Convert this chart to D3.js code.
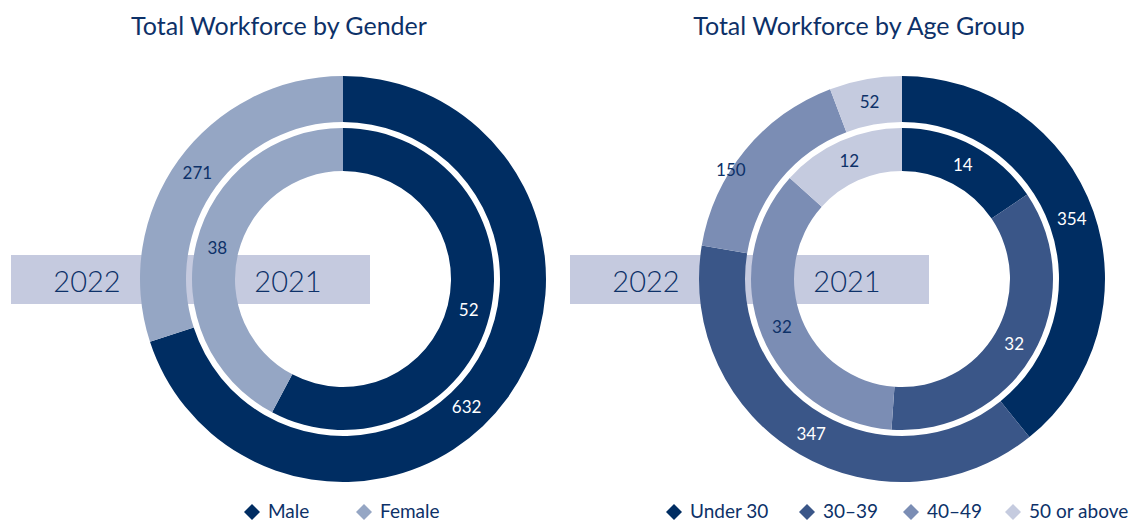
<!DOCTYPE html>
<html>
<head>
<meta charset="utf-8">
<script src="https://cdn.jsdelivr.net/npm/d3@7"></script>
<style>
  body { margin: 0; background: #fff; }
  text { font-family: Lato, "Open Sans", sans-serif; }
</style>
</head>
<body>
<div id="chart-container"></div>
<script>
const titles = ["Total Workforce by Gender", "Total Workforce by Age Group"];
const years = ["2022", "2021"];

const genderCats = ["Male", "Female"];
const gender2022 = [632, 271];
const gender2021 = [52, 38];

const ageCats = ["Under 30", "30–39", "40–49", "50 or above"];
const age2022 = [354, 347, 150, 52];
const age2021 = [14, 32, 32, 12];

const main = function() {
  const navy = "#0d3168";
  const svg = d3.select("#chart-container")
    .append("svg")
    .attr("width", 1133)
    .attr("height", 521);

  const panels = [
    {
      title: titles[0], cats: genderCats, outer: gender2022, inner: gender2021,
      cx: 343, titleX: 279,
      colors: ["#002d62", "#95a6c4"],
      lightText: ["#ffffff", navy],
      legendX: [252, 364],
      nudge: { 0: [-22, 22] }
    },
    {
      title: titles[1], cats: ageCats, outer: age2022, inner: age2021,
      cx: 902, titleX: 859,
      colors: ["#002d62", "#3a5688", "#7b8db4", "#c5cbdf"],
      lightText: ["#ffffff", "#ffffff", navy, navy],
      legendX: [674, 807, 911, 1013],
      nudge: { 2: [-32, 5] }
    }
  ];

  const cy = 279;
  const outerArc = d3.arc().innerRadius(157).outerRadius(203);
  const innerArc = d3.arc().innerRadius(108).outerRadius(151);
  const pie = d3.pie().sort(null).value(d => d);

  panels.forEach(p => {
    const color = d3.scaleOrdinal().domain(p.cats).range(p.colors);
    const g = svg.append("g");

    // title
    g.append("text")
      .attr("x", p.titleX)
      .attr("y", 35)
      .attr("text-anchor", "middle")
      .style("font-size", "25px")
      .style("fill", navy)
      .text(p.title);

    // year band behind the donut
    g.append("rect")
      .attr("x", p.cx - 332)
      .attr("y", 255)
      .attr("width", 359)
      .attr("height", 49)
      .style("fill", "#c5cadf");

    g.append("text")
      .attr("x", p.cx - 256)
      .attr("y", 292)
      .attr("text-anchor", "middle")
      .style("font-size", "29px")
      .style("font-weight", 300)
      .style("fill", navy)
      .text(years[0]);

    const donut = g.append("g").attr("transform", "translate(" + p.cx + "," + cy + ")");

    [[p.outer, outerArc, true], [p.inner, innerArc, false]].forEach(([vals, arc, isOuter]) => {
      const arcs = pie(vals);
      donut.selectAll(null)
        .data(arcs)
        .enter()
        .append("path")
        .attr("d", arc)
        .style("fill", (d, i) => color(p.cats[i]));

      donut.selectAll(null)
        .data(arcs)
        .enter()
        .append("text")
        .attr("transform", (d, i) => {
          const c = arc.centroid(d);
          const n = isOuter && p.nudge[i] ? p.nudge[i] : [0, 0];
          return "translate(" + (c[0] + n[0]) + "," + (c[1] + n[1]) + ")";
        })
        .attr("text-anchor", "middle")
        .attr("dy", "0.35em")
        .style("font-size", "17px")
        .style("fill", (d, i) => p.lightText[i])
        .text(d => d.data);
    });

    g.append("text")
      .attr("x", p.cx - 55)
      .attr("y", 292)
      .attr("text-anchor", "middle")
      .style("font-size", "29px")
      .style("font-weight", 300)
      .style("fill", navy)
      .text(years[1]);

    // legend
    const leg = g.selectAll(null)
      .data(p.cats)
      .enter()
      .append("g")
      .attr("transform", (d, i) => "translate(" + p.legendX[i] + ",512)");

    leg.append("path")
      .attr("d", "M0,-8L8,0L0,8L-8,0Z")
      .style("fill", d => color(d));

    leg.append("text")
      .attr("x", 16)
      .attr("y", 6)
      .style("font-size", "19px")
      .style("fill", navy)
      .text(d => d);
  });
};

window.onload = main;
</script>
</body>
</html>
